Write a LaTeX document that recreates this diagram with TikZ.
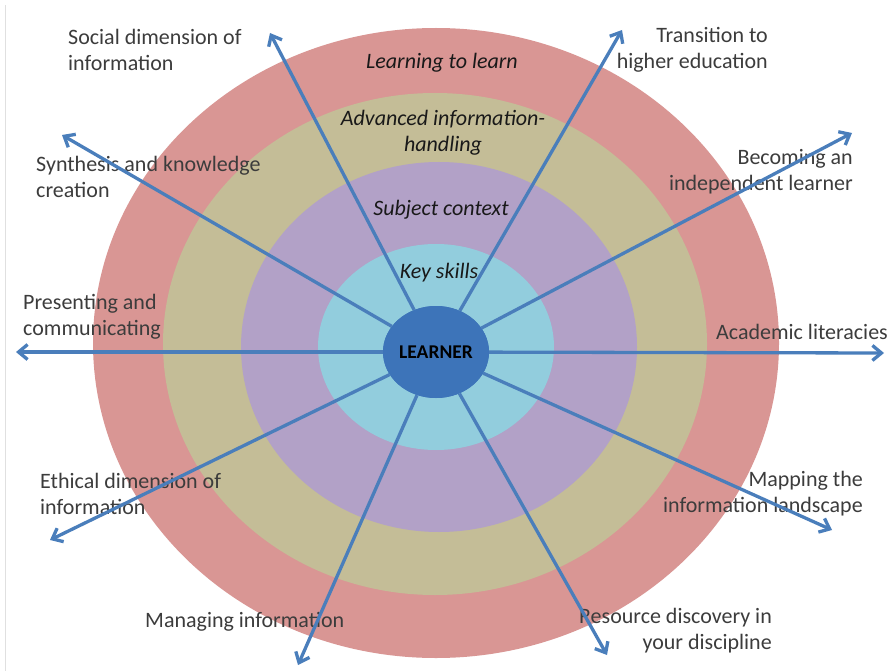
\documentclass[tikz,border=0pt]{standalone}
\usepackage{fontspec}
\setmainfont{Carlito}
\usetikzlibrary{arrows.meta,shapes.geometric}

\definecolor{ringred}{RGB}{217,150,148}
\definecolor{ringtan}{RGB}{196,189,151}
\definecolor{ringlilac}{RGB}{178,161,199}
\definecolor{ringcyan}{RGB}{146,205,221}
\definecolor{learnerblue}{RGB}{61,116,185}
\definecolor{spokeblue}{RGB}{74,126,187}
\definecolor{labelgray}{RGB}{60,60,60}

\begin{document}
\begin{tikzpicture}[x=1pt,y=-1pt,
                    spoke/.style={draw=spokeblue,line width=3.3pt,-{Straight Barb[length=9pt,width=15pt]}},
                    tag/.style={inner sep=0pt,text=labelgray,font=\fontsize{22}{26}\selectfont},
                    ringtag/.style={inner sep=0pt,text=black!90,align=center,font=\fontsize{22}{26}\selectfont\itshape},
                    learner/.style={ellipse,fill=learnerblue,inner sep=0pt,minimum width=106pt,minimum height=92pt,font=\fontsize{19.5}{22}\selectfont\bfseries}
                ]
                \useasboundingbox (0,0) rectangle (896,671);
                \draw[black!12] (5,5) -- (5,671);
                % rings
                \fill[ringred] (436,343) ellipse [x radius=343pt,y radius=315pt];
                \fill[ringtan] (435,344) ellipse [x radius=272pt,y radius=251pt];
                \fill[ringlilac] (439,347) ellipse [x radius=198pt,y radius=185pt];
                \fill[ringcyan] (436,347) ellipse [x radius=118pt,y radius=103pt];
                \node[ringtag] (learning) at (442,63) {Learning to learn};
                \node[ringtag] (advanced) at (443,133) {Advanced information-\\handling};
                \node[ringtag] (subject) at (441,210) {Subject context};
                \node[ringtag] (keyskills) at (439,273) {Key skills};
                % outer labels
                \node[tag,anchor=west,align=left] (social) at (68,50) {Social dimension of\\information};
                \node[tag,anchor=west,align=left] (synthesis) at (36,177) {Synthesis and knowledge\\creation};
                \node[tag,anchor=west,align=left] (presenting) at (23,317) {Presenting and\\communicating};
                \node[tag,anchor=west,align=left] (ethical) at (40,494) {Ethical dimension of\\information};
                \node[tag,anchor=west] (managing) at (145,622) {Managing information};
                \node[tag,anchor=east,align=right] (resource) at (772,631) {Resource discovery in\\your discipline};
                \node[tag,anchor=east,align=right] (mapping) at (863,494) {Mapping the\\information landscape};
                \node[tag,anchor=east] (academic) at (888,332) {Academic literacies};
                \node[tag,anchor=east,align=right] (becoming) at (853,172) {Becoming an\\independent learner};
                \node[tag,anchor=east,align=right] (transition) at (768,50) {Transition to\\higher education};
                \node[learner] (learner) at (436,352) {LEARNER};
                \foreach \name/\tx/\ty in {social/270/33, synthesis/62/135, presenting/16/352, ethical/50/540, managing/298/665,
                                          resource/607/655, mapping/832/530, academic/884/353, becoming/852/133, transition/622/30}
                    {
                    \coordinate (\name-tip) at (\tx,\ty);
                    \draw[spoke] (learner) -- (\name-tip);
                    }
                \node[learner] at (learner) {LEARNER};
            \end{tikzpicture}
\end{document}
